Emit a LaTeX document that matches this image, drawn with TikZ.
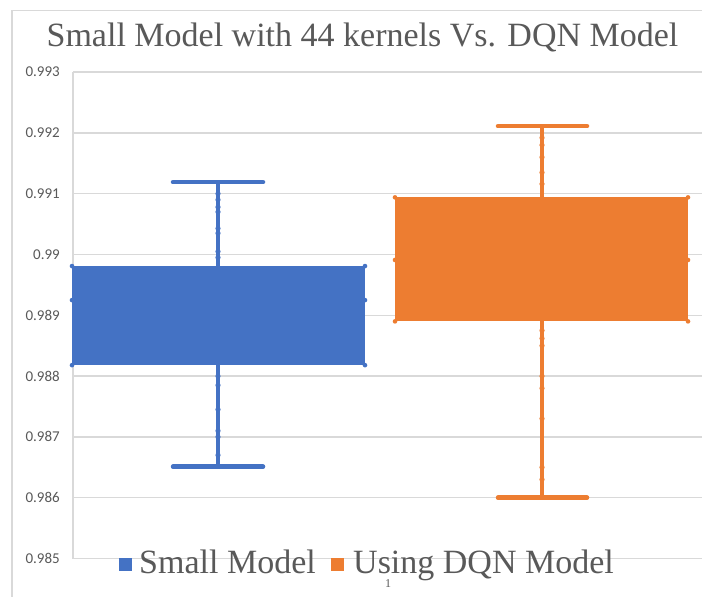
\documentclass[tikz,border=0pt]{standalone}
\usepackage{fontspec}
\setmainfont{Liberation Serif}
\newfontfamily\titlefont{Liberation Serif}
\newfontfamily\axisfont{Carlito}
\definecolor{gridgray}{HTML}{D9D9D9}
\definecolor{textgray}{HTML}{595959}
\definecolor{boxblue}{HTML}{4472C4}
\definecolor{boxorange}{HTML}{ED7D31}
\tikzset{
  gridline/.style={gridgray, line width=1.4pt},
  ticklabel/.style={anchor=east, inner sep=0pt, text=textgray,
    font=\axisfont\fontsize{15}{15}\selectfont},
  whisker/.style={line width=4pt},
  capline/.style={line width=4.5pt, line cap=round},
  titletext/.style={anchor=base, inner sep=0pt, text=textgray,
    font=\titlefont\fontsize{34}{34}\selectfont},
  legendtext/.style={anchor=base west, inner sep=0pt, text=textgray,
    font=\titlefont\fontsize{34}{34}\selectfont},
  legendkey/.style={minimum size=13pt, inner sep=0pt},
}
\begin{document}
\begin{tikzpicture}[x=1pt, y=-1pt]
\useasboundingbox (0,0) rectangle (702,597);
\fill[white] (0,0) rectangle (702,597);

% chart area frame
\draw[gridgray, line width=1.2pt] (12,597) -- (12,10.5) -- (702,10.5);

% title
\node[titletext] (title) at (362.5,46) {Small Model with 44 kernels Vs. DQN Model};

% horizontal gridlines and value axis labels
\foreach \k/\lab in {0/0.985,1/0.986,2/0.987,3/0.988,4/0.989,5/0.99,6/0.991,7/0.992,8/0.993}{
  \draw[gridline] (73,{558.5-60.8*\k}) -- (702,{558.5-60.8*\k});
  \node[ticklabel] (ylab\k) at (60,{558.5-60.8*\k}) {\lab};
}
\draw[gridline] (73,72) -- (73,558.5);

% box plots, in data units of 0.001 above 0.985
\begin{scope}[shift={(0,558.5)}, y=60.8pt]
  % Small Model
  \begin{scope}[boxblue]
    \fill (72,3.18) rectangle (365,4.81);
    \draw[whisker] (218,4.81) -- (218,6.19);
    \draw[whisker] (218,3.18) -- (218,1.51);
    \draw[capline] (173,6.19) -- (263,6.19);
    \draw[capline] (173,1.51) -- (263,1.51);
    \foreach \v in {4.95,5.05,5.35,5.43,5.70,5.78,5.90,6.00}
      \fill (218,\v) circle[radius=2.6pt];
    \foreach \v in {3.00,2.85,2.45,2.10,2.00,1.70}
      \fill (218,\v) circle[radius=2.6pt];
    \foreach \x in {72,365}
      \foreach \v in {3.18,4.25,4.81}
        \fill (\x,\v) circle[radius=2.3pt];
  \end{scope}
  % Using DQN Model
  \begin{scope}[boxorange]
    \fill (395,3.90) rectangle (688,5.94);
    \draw[whisker] (542,5.94) -- (542,7.11);
    \draw[whisker] (542,3.90) -- (542,1.00);
    \draw[capline] (498,7.11) -- (587,7.11);
    \draw[capline] (498,1.00) -- (587,1.00);
    \foreach \v in {6.16,6.35,6.60,6.80,6.92}
      \fill (542,\v) circle[radius=2.6pt];
    \foreach \v in {3.75,3.62,3.50,3.00,2.80,2.30,1.50,1.30}
      \fill (542,\v) circle[radius=2.6pt];
    \foreach \x in {395,688}
      \foreach \v in {3.90,4.91,5.94}
        \fill (\x,\v) circle[radius=2.3pt];
  \end{scope}
\end{scope}

% legend
\node[legendkey, fill=boxblue] (key1) at (125.5,564.5) {};
\node[legendtext] (leg1) at (139,573) {Small Model};
\node[legendkey, fill=boxorange] (key2) at (337.5,564.5) {};
\node[legendtext] (leg2) at (353,573) {Using DQN Model};
\node[anchor=base, inner sep=0pt, text=textgray, font=\titlefont\fontsize{12}{12}\selectfont]
  (catlab) at (388,587) {1};
\end{tikzpicture}
\end{document}
